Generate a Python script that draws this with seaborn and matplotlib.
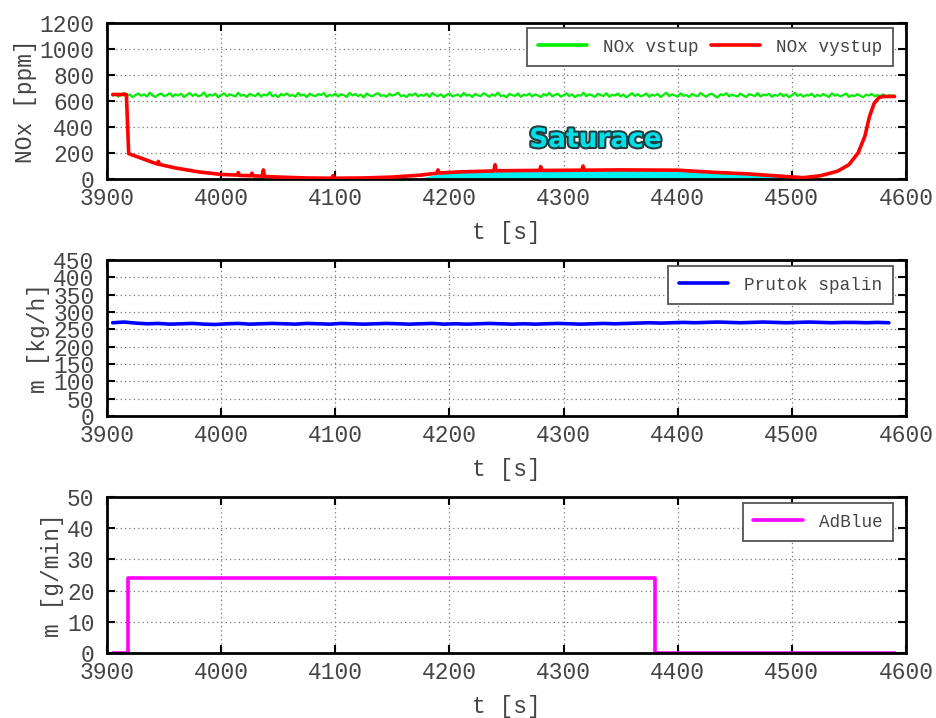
import numpy as np
import pandas as pd
import matplotlib
matplotlib.use("Agg")
import matplotlib.pyplot as plt
import matplotlib.patheffects as pe
import seaborn as sns

# ---------------- data ----------------
nox_in_t = list(np.arange(3905, 4590.1, 2.5))
nox_in = [
    641, 655, 633, 648, 662, 637, 650, 629, 646, 658, 640, 652, 635, 664, 643, 631, 649, 657, 638, 645, 660, 634, 651, 642, 656,
    630, 647, 661, 639, 653, 636, 644, 666, 632, 650, 641, 657, 628, 646, 659, 637, 652, 643, 635, 663, 640, 648, 631, 655, 645,
    638, 660, 634, 651, 642, 667, 636, 649, 630, 654, 643, 658, 639, 647, 633, 662, 641, 650, 629, 656, 644, 637, 653, 646, 661,
    632, 648, 640, 657, 635, 652, 645, 631, 663, 642, 654, 638, 649, 627, 658, 643, 636, 651, 660, 639, 646, 633, 655, 641, 650,
    664, 637, 645, 630, 653, 642, 659, 635, 648, 640, 656, 632, 661, 644, 638, 652, 629, 647, 657, 636, 643, 650, 634, 662, 641,
    649, 631, 655, 643, 638, 660, 646, 633, 651, 640, 665, 637, 644, 628, 654, 645, 639, 658, 632, 648, 642, 657, 635, 650, 643,
    630, 653, 641, 662, 636, 647, 655, 634, 644, 659, 638, 651, 629, 646, 640, 663, 637, 652, 643, 631, 656, 645, 639, 660, 633,
    648, 642, 657, 635, 650, 628, 645, 661, 639, 653, 636, 644, 658, 632, 649, 641, 655, 630, 647, 664, 638, 651, 643, 634, 659,
    640, 646, 631, 654, 643, 637, 662, 645, 633, 650, 656, 639, 627, 652, 644, 660, 636, 648, 641, 635, 657, 642, 630, 653, 646,
    638, 661, 634, 649, 644, 655, 632, 647, 640, 658, 636, 651, 629, 645, 663, 639, 652, 633, 646, 642, 656, 631, 648, 637, 654,
    643, 630, 659, 641, 650, 635, 646, 657, 632, 644, 638, 653, 640, 629, 648, 642, 655, 636, 645, 639, 651, 634, 644, 640, 642,
]

nox_out_t = [3905, 3917, 3918, 3919, 3930, 3944, 3945, 3946, 3960, 3980,
             4000, 4014, 4015, 4016, 4026, 4027, 4028, 4036, 4037, 4038,
             4050, 4075, 4097, 4098, 4099, 4125, 4150, 4175, 4189, 4190,
             4191, 4210, 4239, 4240, 4241, 4260, 4279, 4280, 4281, 4300,
             4316, 4317, 4318, 4350, 4400, 4430, 4460, 4490, 4510, 4525,
             4540, 4550, 4558, 4564, 4568, 4572, 4576, 4580, 4590]
nox_out = [650, 650, 420, 195, 160, 115, 135, 112, 85, 55,
           35, 30, 50, 28, 25, 45, 24, 22, 70, 20,
           15, 8, 6, 25, 6, 8, 15, 30, 45, 70,
           46, 55, 62, 110, 63, 65, 66, 95, 66, 67,
           68, 100, 68, 70, 68, 52, 40, 22, 10, 25,
           60, 110, 200, 330, 480, 580, 625, 635, 635]

sat_t = [4172, 4190, 4210, 4250, 4300, 4350, 4400, 4430, 4460, 4490, 4505]
sat_v = [0, 40, 52, 62, 66, 68, 68, 50, 38, 20, 8]

flow_t = list(range(3905, 4595, 10))
flow = [
    269, 271, 268, 266, 267, 265, 266, 267, 265, 264,
    266, 267, 265, 266, 267, 266, 265, 267, 266, 265,
    267, 266, 265, 266, 267, 266, 265, 266, 267, 265,
    266, 265, 266, 267, 266, 265, 266, 265, 266, 267,
    266, 265, 266, 267, 266, 267, 268, 269, 268, 269,
    270, 269, 270, 271, 270, 269, 270, 271, 270, 269,
    270, 271, 270, 269, 270, 270, 269, 270, 269,
]

adblue_t = [3905, 3918, 3918, 4380, 4380, 4590]
adblue = [0, 0, 24, 24, 0, 0]

x_ticks = [3900, 4000, 4100, 4200, 4300, 4400, 4500, 4600]

# ---------------- style ----------------
sns.set_style("ticks")
plt.rcParams['font.family'] = ['Liberation Mono', 'DejaVu Sans']
TXT = '#444444'
FS = 16.5

fig = plt.figure(figsize=(9.36, 7.18), dpi=100)
W, H = 936, 718


def make_ax(top_px, bottom_px):
    left, right = 107, 906
    return fig.add_axes([left / W, (H - bottom_px) / H, (right - left) / W, (bottom_px - top_px) / H])


def style_ax(ax, yticks, ylabel):
    ax.set_xlim(3900, 4600)
    ax.set_ylim(yticks[0], yticks[-1])
    ax.set_xticks(x_ticks)
    ax.set_yticks(yticks)
    ax.grid(True, linestyle=(0, (1, 2.5)), color='#777777', linewidth=0.9)
    ax.tick_params(direction='in', length=6, width=1.5, top=True, right=True,
                   labelsize=FS, labelcolor=TXT, color='black', pad=6)
    ax.tick_params(axis='y', pad=9)
    for s in ax.spines.values():
        s.set_linewidth(2)
        s.set_color('black')
        s.set_visible(True)
    ax.set_xlabel('t [s]', fontsize=FS, color=TXT, labelpad=8)
    ax.set_ylabel(ylabel, fontsize=FS, color=TXT, labelpad=2)


def legend(ax, ncol=1, top=0.962):
    leg = ax.legend(loc='upper right', bbox_to_anchor=(0.9837, top), ncol=ncol,
                    fontsize=12.7, frameon=True,
                    fancybox=False, edgecolor='#555555', framealpha=1,
                    handlelength=2.8, columnspacing=0.7, handletextpad=0.9,
                    borderaxespad=0.0, borderpad=0.6)
    leg.get_frame().set_linewidth(1.3)
    for t in leg.get_texts():
        t.set_color(TXT)


# --- panel 1 ---
ax1 = make_ax(23, 179)
df_in = pd.DataFrame({'t': nox_in_t, 'v': nox_in})
df_out = pd.DataFrame({'t': nox_out_t, 'v': nox_out})
ax1.fill_between(sat_t, 0, sat_v, color='#00f0f0', linewidth=0, zorder=2)
sns.lineplot(data=df_in, x='t', y='v', ax=ax1, color='#00ee00', linewidth=1.6,
             estimator=None, sort=False, label='NOx vstup', zorder=3)
sns.lineplot(data=df_out, x='t', y='v', ax=ax1, color='#ff0000', linewidth=2.6,
             estimator=None, sort=False, label='NOx vystup', zorder=4)
style_ax(ax1, [0, 200, 400, 600, 800, 1000, 1200], 'NOx [ppm]')
legend(ax1, ncol=2, top=0.968)
for line in ax1.get_legend().get_lines():
    line.set_linewidth(2.6)
ax1.text(4328, 300, 'Saturace', fontsize=19, fontweight='bold', family='DejaVu Sans',
         color='#00e0e8', ha='center', va='center', zorder=5,
         path_effects=[pe.withStroke(linewidth=3, foreground='#1f3f40')])

# --- panel 2 ---
ax2 = make_ax(260, 416)
df_flow = pd.DataFrame({'t': flow_t, 'v': flow})
sns.lineplot(data=df_flow, x='t', y='v', ax=ax2, color='#0000ff', linewidth=2.6,
             estimator=None, sort=False, label='Prutok spalin')
style_ax(ax2, list(range(0, 451, 50)), 'm [kg/h]')
legend(ax2)

# --- panel 3 ---
ax3 = make_ax(497, 653)
df_ad = pd.DataFrame({'t': adblue_t, 'v': adblue})
sns.lineplot(data=df_ad, x='t', y='v', ax=ax3, color='#ff00ff', linewidth=2.6,
             estimator=None, sort=False, label='AdBlue')
style_ax(ax3, [0, 10, 20, 30, 40, 50], 'm [g/min]')
legend(ax3)

fig.savefig('out.png', dpi=100, facecolor='white')
